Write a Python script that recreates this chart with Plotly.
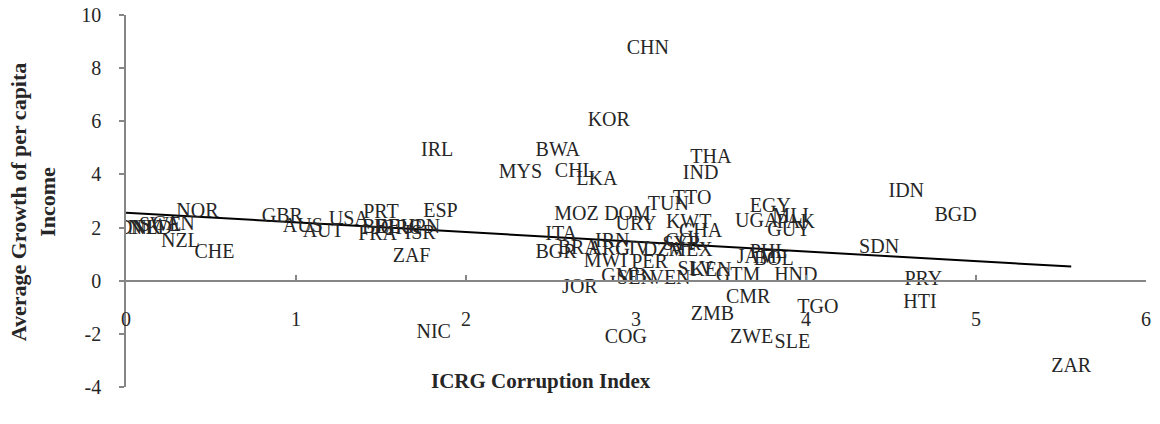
import plotly.graph_objects as go

codes = ["CHN","KOR","IRL","BWA","MYS","CHL","LKA","THA","IND","TTO","TUN","IDN","BGD","EGY",
         "UGA","MLI","PAK","GUY","SDN","JAM","PHL","BOL","HND","PRY","HTI","ZAR","TGO","SLE",
         "ZWE","ZMB","CMR","COG","NIC","JOR","GTM","GMB","SEN","VEN","SLV","KEN","MWI","PER",
         "BGR","BRA","ARG","CIV","DZA","MEX","ITA","IRN","COL","SYR","GHA","KWT","URY","MOZ",
         "DOM","NOR","GBR","CAN","NZL","CHE","FIN","DNK","NLD","SWE","AUS","AUT","USA","PRT",
         "ESP","BEL","DEU","GRC","JPN","FRA","ISR","ZAF"]
corruption = [3.07,2.84,1.83,2.54,2.32,2.64,2.77,3.44,3.38,3.33,3.19,4.59,4.88,3.79,
              3.71,3.91,3.94,3.90,4.43,3.71,3.78,3.81,3.94,4.69,4.67,5.56,4.07,3.92,
              3.68,3.45,3.66,2.94,1.81,2.67,3.60,2.93,3.00,3.20,3.35,3.44,2.82,3.08,
              2.53,2.66,2.84,2.98,3.16,3.32,2.56,2.86,3.29,3.27,3.38,3.31,3.00,2.65,
              2.95,0.42,0.92,0.28,0.32,0.52,0.00,0.08,0.15,0.20,1.04,1.16,1.31,1.50,
              1.85,1.50,1.58,1.62,1.75,1.48,1.73,1.68]
growth = [8.73,6.01,4.88,4.88,4.05,4.08,3.78,4.62,4.02,3.07,2.85,3.33,2.43,2.77,
          2.20,2.39,2.17,1.87,1.23,0.85,1.05,0.78,0.17,0.03,-0.84,-3.25,-1.03,-2.34,
          -2.16,-1.29,-0.65,-2.16,-1.97,-0.27,0.18,0.14,0.05,0.05,0.40,0.36,0.70,0.67,
          1.05,1.19,1.15,1.15,1.13,1.10,1.72,1.46,1.45,1.35,1.83,2.17,2.10,2.47,
          2.47,2.59,2.40,2.10,1.46,1.04,1.95,1.95,1.95,2.05,2.02,1.83,2.28,2.55,
          2.59,2.00,2.00,1.95,2.00,1.72,1.75,0.89]

trend_intercept = 2.56
trend_slope = -0.365

x_ticks = [0, 1, 2, 3, 4, 5, 6]
y_ticks = [-4, -2, 0, 2, 4, 6, 8, 10]
y_tick_labels = ["-4", "-2", "0", "2", "4", "6", "8", "10"]

FONT = "Liberation Serif"
TXT = "#262626"
AX = "#868686"

fig = go.Figure()

xmin, xmax = min(corruption), max(corruption)
fig.add_trace(go.Scatter(
    x=[xmin, xmax],
    y=[trend_intercept + trend_slope * xmin, trend_intercept + trend_slope * xmax],
    mode="lines", line=dict(color="black", width=2), hoverinfo="skip", showlegend=False))

fig.add_trace(go.Scatter(
    x=corruption, y=growth, text=codes, mode="text", textposition="middle center",
    textfont=dict(family=FONT, size=20, color=TXT), showlegend=False))

fig.update_layout(
    width=1160, height=424,
    margin=dict(l=126, r=14, t=15, b=37),
    paper_bgcolor="white", plot_bgcolor="white",
    font=dict(family=FONT, size=20, color=TXT),
    xaxis=dict(range=[0, 6], tickvals=x_ticks, showgrid=False, zeroline=False,
               showline=True, linecolor=AX, linewidth=1.5, automargin=False,
               ticks="inside", ticklen=5, tickcolor=AX, tickwidth=1.5,
               anchor="free", position=4 / 14, ticklabelstandoff=21,
               ticklabeloverflow="allow",
               tickfont=dict(family=FONT, size=20, color=TXT)),
    yaxis=dict(range=[-4, 10], tickvals=y_ticks, ticktext=y_tick_labels,
               showgrid=False, zeroline=False,
               showline=True, linecolor=AX, linewidth=1.5, automargin=False,
               ticks="outside", ticklen=5, tickcolor=AX, tickwidth=1.5,
               ticklabelstandoff=14, ticklabeloverflow="allow",
               tickfont=dict(family=FONT, size=20, color=TXT)),
    annotations=[
        dict(text="<b>ICRG Corruption Index</b>", xref="paper", yref="paper",
             x=0.407, y=0.016, xanchor="center", yanchor="middle", showarrow=False,
             font=dict(family=FONT, size=21, color=TXT)),
        dict(text="<b>Average Growth of per capita<br>Income</b>", xref="paper", yref="paper",
             x=-0.091, y=0.497, xanchor="center", yanchor="middle", showarrow=False,
             textangle=-90, font=dict(family=FONT, size=22, color=TXT)),
    ],
)

fig.write_html("out.html", config={"displayModeBar": False},
               post_script="document.body.style.margin='0';document.body.style.overflow='hidden';")
